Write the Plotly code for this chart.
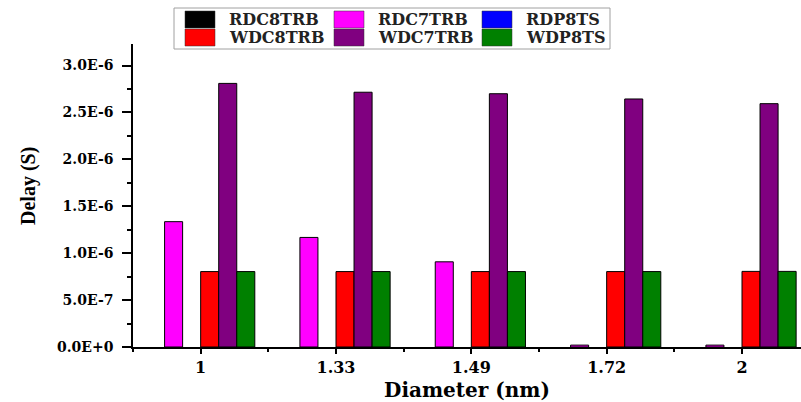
import plotly.graph_objects as go

# ---- data ----
diameters = ["1", "1.33", "1.49", "1.72", "2"]
series_names = ["RDC8TRB", "RDC7TRB", "RDP8TS", "WDC8TRB", "WDC7TRB", "WDP8TS"]
rdc8trb = [0, 0, 0, 0, 0]
rdc7trb = [1.336e-6, 1.168e-6, 0.908e-6, 2e-8, 2e-8]
rdp8ts = [0, 0, 0, 0, 0]
wdc8trb = [0.804e-6, 0.804e-6, 0.804e-6, 0.804e-6, 0.806e-6]
wdc7trb = [2.81e-6, 2.716e-6, 2.70e-6, 2.644e-6, 2.594e-6]
wdp8ts = [0.804e-6, 0.804e-6, 0.804e-6, 0.804e-6, 0.806e-6]
series_values = [rdc8trb, rdc7trb, rdp8ts, wdc8trb, wdc7trb, wdp8ts]
colors = ["#000000", "#FF00FF", "#0000FF", "#FF0000", "#800080", "#008000"]
ytick_vals = [0, 5e-7, 1e-6, 1.5e-6, 2e-6, 2.5e-6, 3e-6]
ytick_text = ["0.0E+0", "5.0E-7", "1.0E-6", "1.5E-6", "2.0E-6", "2.5E-6", "3.0E-6"]

# ---- layout geometry (pixels) ----
W, H = 801, 402
PL, PR, PT, PB = 133, 801, 44, 347

def px_x(p):
    return (p - PL) / (PR - PL)

def px_y(p):
    return (PB - p) / (PB - PT)

xpos = list(range(len(diameters)))

fig = go.Figure()
for name, vals, col in zip(series_names, series_values, colors):
    fig.add_trace(go.Bar(
        x=xpos, y=vals, name=name,
        marker=dict(color=col,
                    line=dict(color="#000000",
                              width=[0 if v == 0 else 1 for v in vals])),
        showlegend=False,
    ))

SERIF = "DejaVu Serif"

fig.update_layout(
    width=W, height=H,
    margin=dict(l=PL, r=W - PR, t=PT, b=H - PB),
    paper_bgcolor="white", plot_bgcolor="white",
    barmode="group", bargap=0.2, bargroupgap=0,
    font=dict(family=SERIF, color="black"),
)

fig.update_xaxes(
    range=[-0.5, 4.436],
    tickmode="array", tickvals=xpos, ticktext=diameters,
    ticks="outside", ticklen=5, tickwidth=1.5, tickcolor="black",
    minor=dict(tickmode="linear", tick0=0.5, dtick=1, ticks="outside",
               ticklen=3, tickwidth=1.5, tickcolor="black"),
    tickfont=dict(family=SERIF, size=16, weight="bold", color="black"),
    showline=True, linecolor="black", linewidth=1.5,
    showgrid=False, zeroline=False,
    title=dict(text="Diameter (nm)",
               font=dict(family=SERIF, size=20, weight="bold", color="black"),
               standoff=7),
)

fig.update_yaxes(
    range=[0, 3.23e-6],
    tickmode="array", tickvals=ytick_vals, ticktext=ytick_text,
    ticks="outside", ticklen=9, tickwidth=1.5, tickcolor="black",
    minor=dict(tickmode="linear", tick0=0, dtick=2.5e-7, ticks="outside",
               ticklen=4, tickwidth=1.5, tickcolor="black"),
    tickfont=dict(family=SERIF, size=14, weight="bold", color="black"),
    ticklabelstandoff=6,
    showline=True, linecolor="black", linewidth=1.5,
    showgrid=False, zeroline=False,
)

# y-axis title
fig.add_annotation(
    text="Delay (S)", textangle=-90,
    xref="paper", yref="paper", x=px_x(28), y=px_y(186),
    xanchor="center", yanchor="middle", showarrow=False,
    font=dict(family="Liberation Serif", size=20, weight="bold", color="black"),
)

# ---- custom legend (2 rows x 3 columns) ----
shapes = [dict(type="rect", xref="paper", yref="paper",
               x0=px_x(174), x1=px_x(610), y0=px_y(49), y1=px_y(8),
               line=dict(color="#A0A0A0", width=1), fillcolor="white", layer="above")]
col_x = [185, 334, 482]
row_y = [11, 29]
for i, (name, col) in enumerate(zip(series_names, colors)):
    c, r = i % 3, i // 3
    sx, sy = col_x[c], row_y[r]
    shapes.append(dict(type="rect", xref="paper", yref="paper",
                       x0=px_x(sx), x1=px_x(sx + 30), y0=px_y(sy + 17), y1=px_y(sy),
                       line=dict(color="#333333", width=0.5), fillcolor=col, layer="above"))
    fig.add_annotation(
        text=name, xref="paper", yref="paper",
        x=px_x(sx + 42), y=px_y(sy + 8.5),
        xanchor="left", yanchor="middle", showarrow=False,
        font=dict(family=SERIF, size=16, weight="bold", color="#222222"),
    )
fig.update_layout(shapes=shapes)

fig.write_html("out.html")
